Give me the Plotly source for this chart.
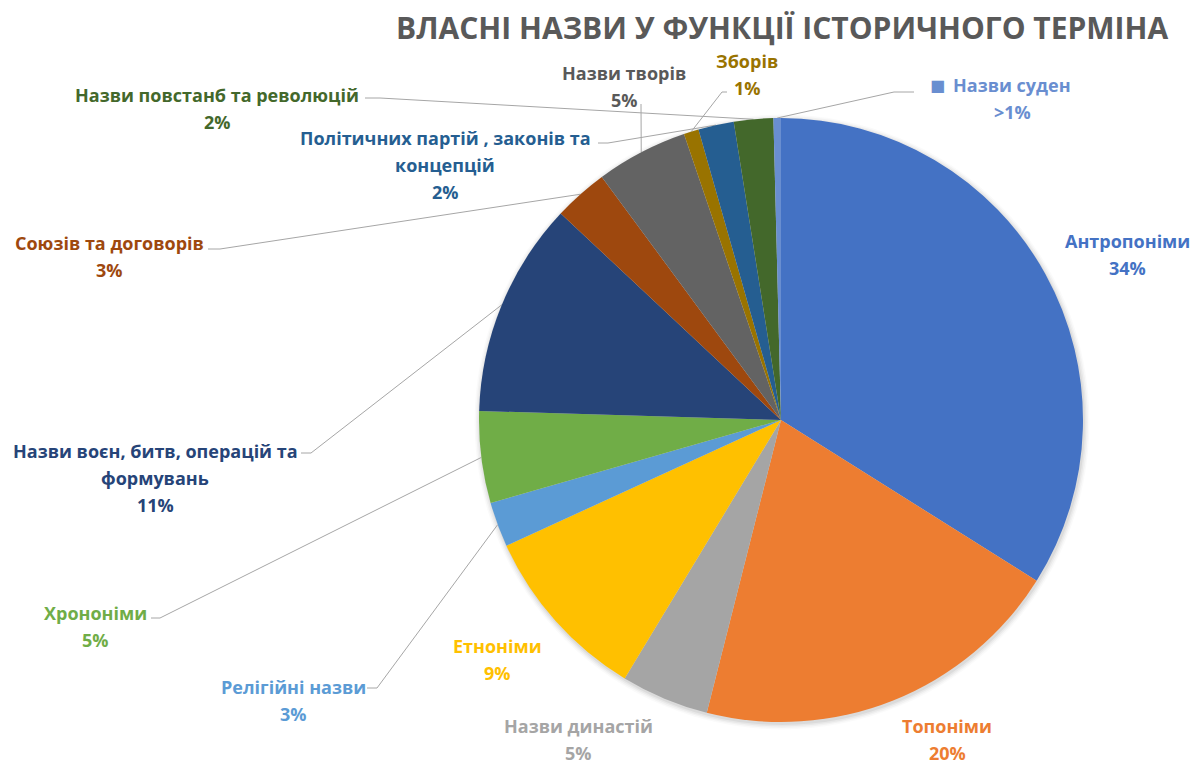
import math
import plotly.graph_objects as go

# ---------------- data ----------------
categories = ["Антропоніми", "Топоніми", "Назви династій", "Етноніми", "Релігійні назви",
              "Хрононіми", "Назви воєн, битв, операцій та формувань", "Союзів та договорів",
              "Назви творів", "Зборів", "Політичних партій , законів та концепцій",
              "Назви повстанб та революцій", "Назви суден"]
values = [33.9, 20.0, 4.7, 9.5, 2.4, 4.9, 11.5, 2.9, 4.9, 0.8, 1.9, 2.1, 0.4]
pct_labels = ["34%", "20%", "5%", "9%", "3%", "5%", "11%", "3%", "5%", "1%", "2%", "2%", ">1%"]
label_lines = [["Антропоніми"], ["Топоніми"], ["Назви династій"], ["Етноніми"], ["Релігійні назви"],
               ["Хрононіми"], ["Назви воєн, битв, операцій та", "формувань"], ["Союзів та договорів"],
               ["Назви творів"], ["Зборів"], ["Політичних партій , законів та", "концепцій"],
               ["Назви повстанб та революцій"], ["Назви суден"]]
title_text = "ВЛАСНІ НАЗВИ У ФУНКЦІЇ ІСТОРИЧНОГО ТЕРМІНА"

# ---------------- styles / layout ----------------
W, H = 1197, 766
CX, CY, R = 781, 420, 302
colors = ["#4472C4", "#ED7D31", "#A5A5A5", "#FFC000", "#5B9BD5", "#70AD47", "#264478",
          "#9E480E", "#636363", "#997300", "#255E91", "#43682B", "#698ED0"]
text_colors = ["#4472C4", "#ED7D31", "#A5A5A5", "#FFC000", "#5B9BD5", "#70AD47", "#264478",
               "#9E480E", "#595959", "#997300", "#255E91", "#43682B", "#698ED0"]
# label block position: (center x, first line center y) in pixels
label_pos = [(1127, 241), (947, 726), (578, 726), (497, 646), (293, 687), (95, 613),
             (155, 451), (109, 243), (624, 73), (747, 61), (445, 138), (217, 95), (1012, 85)]
# leader line start (label side) points, or None
leader_start = [None, None, None, None,
                [(367, 688), (377, 688)],
                [(151, 618), (160, 618)],
                [(301, 453), (311, 453)],
                [(208, 249), (220, 249)],
                [(641, 104)],
                [(727, 92), (722, 92)],
                [(598, 143), (608, 143)],
                [(365, 98), (380, 98)],
                [(914, 92), (894, 92)]]
LINE_STEP = 27
FONT = "Open Sans"
FS = 18

fig = go.Figure()

# pie
fig.add_trace(go.Pie(
    labels=categories, values=values, sort=False, direction="clockwise", rotation=0,
    marker=dict(colors=colors, line=dict(width=0)),
    textinfo="none", hoverinfo="label+percent", showlegend=False,
    domain=dict(x=[(CX - R) / W, (CX + R) / W], y=[1 - (CY + R) / H, 1 - (CY - R) / H]),
))

# leader lines computed from data (slice mid-angle on the pie edge)
total = sum(values)
cum = 0.0
for i, v in enumerate(values):
    mid = (cum + v / 2) / total * 2 * math.pi
    cum += v
    if leader_start[i] is None:
        continue
    ex = CX + R * math.sin(mid)
    ey = CY - R * math.cos(mid)
    pts = list(leader_start[i]) + [(ex, ey)]
    fig.add_trace(go.Scatter(x=[p[0] for p in pts], y=[p[1] for p in pts], mode="lines",
                             line=dict(color="#A6A6A6", width=1), hoverinfo="skip",
                             showlegend=False, xaxis="x", yaxis="y"))

annotations = []
for i, lines in enumerate(label_lines):
    x0, y0 = label_pos[i]
    allines = lines + [pct_labels[i]]
    for k, t in enumerate(allines):
        annotations.append(dict(x=x0, y=y0 + k * LINE_STEP, xref="x", yref="y", text="<b>%s</b>" % t,
                                showarrow=False, xanchor="center", yanchor="middle",
                                font=dict(family=FONT, size=FS, color=text_colors[i])))
# legend key square for the tiny slice
annotations.append(dict(x=937, y=85, xref="x", yref="y", text="■", showarrow=False,
                        xanchor="center", yanchor="middle",
                        font=dict(family="DejaVu Sans", size=16, color=colors[-1])))
# title
annotations.append(dict(x=782, y=27, xref="x", yref="y", text="<b>%s</b>" % title_text,
                        showarrow=False, xanchor="center", yanchor="middle",
                        font=dict(family=FONT, size=30, color="#595959")))

# soft shadow around pie
shapes = []
for k, a in enumerate([0.05, 0.04, 0.03, 0.02]):
    rr = R + 1 + k * 1.5
    shapes.append(dict(type="circle", xref="x", yref="y", layer="below",
                       x0=CX + 1 - rr, x1=CX + 1 + rr, y0=CY + 2 - rr, y1=CY + 2 + rr,
                       fillcolor="rgba(0,0,0,%.3f)" % a, line=dict(width=0)))

fig.update_layout(
    width=W, height=H, margin=dict(l=0, r=0, t=0, b=0),
    paper_bgcolor="white", plot_bgcolor="rgba(0,0,0,0)",
    xaxis=dict(range=[0, W], visible=False, domain=[0, 1], fixedrange=True),
    yaxis=dict(range=[H, 0], visible=False, domain=[0, 1], fixedrange=True),
    annotations=annotations, shapes=shapes,
)

fig.write_html("out.html")
